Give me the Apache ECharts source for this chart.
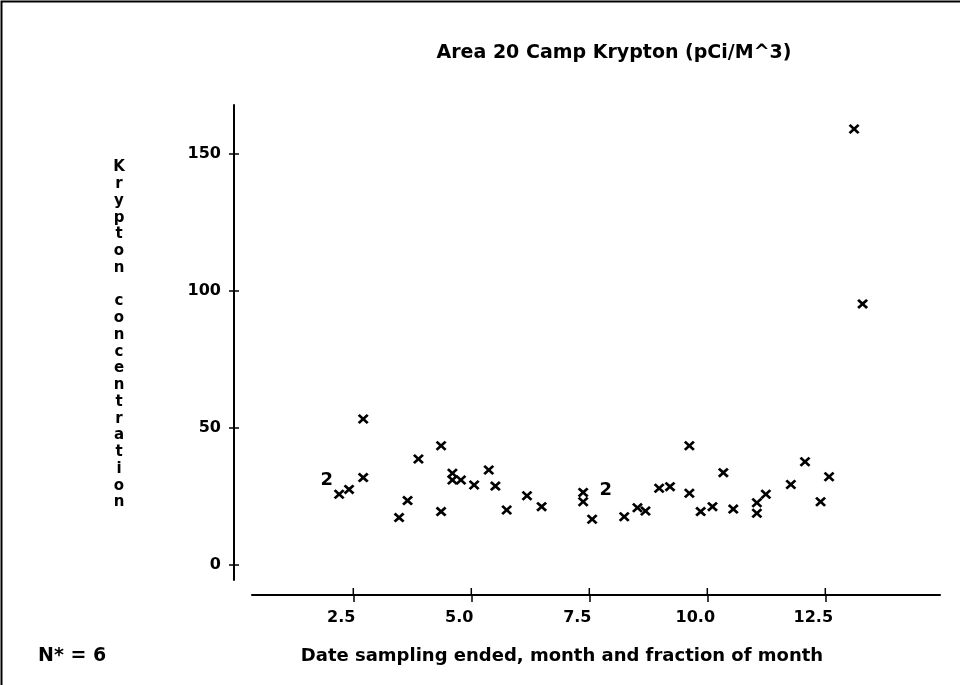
<!DOCTYPE html>
<html>
<head>
<meta charset="utf-8">
<script src="https://cdn.jsdelivr.net/npm/echarts@6/dist/echarts.min.js"></script>
<style>
  html, body { margin: 0; padding: 0; background: #fff; }
  #chart { width: 960px; height: 685px; }
</style>
</head>
<body>
<div id="chart"></div>
<script>
// Sampling end date (month + fraction) and krypton concentration, pCi/M^3
const sampleMonth = [2.20, 2.41, 2.71, 2.71, 3.47, 3.65, 3.88, 4.36, 4.36, 4.60,
                     4.60, 4.78, 5.06, 5.37, 5.51, 5.75, 6.18, 6.49, 7.37, 7.37,
                     7.56, 8.24, 8.52, 8.69, 8.98, 9.21, 9.62, 9.62, 9.86, 10.11,
                     10.34, 10.55, 11.05, 11.05, 11.24, 11.77, 12.07, 12.40, 12.58, 13.11,
                     13.29];
const kryptonConc = [25.8, 27.6, 53.3, 31.9, 17.3, 23.5, 38.7, 43.5, 19.5, 33.5,
                     31.0, 31.0, 29.2, 34.7, 28.8, 20.1, 25.3, 21.3, 26.5, 23.1,
                     16.7, 17.6, 20.9, 19.7, 28.0, 28.6, 43.5, 26.2, 19.5, 21.3,
                     33.7, 20.4, 22.7, 18.9, 25.8, 29.4, 37.7, 23.1, 32.2, 159.1,
                     95.3];
// Coincident observations, drawn as their count
const pairMonth = [1.94, 7.85];
const pairConc = [31.0, 27.4];
const pairCount = [2, 2];

const xTicks = [2.5, 5.0, 7.5, 10.0, 12.5];
const yTicks = [0, 50, 100, 150];

const FONT = '"DejaVu Sans", "Liberation Sans", sans-serif';
const INK = '#000';

const X_MIN = 0.354, X_MAX = 14.93;
const Y_MIN = -5.47, Y_MAX = 167.88;
const X_OFFSET = 15;   // x axis line sits below the plot area
const Y_OFFSET = 18;   // y axis line sits left of the plot area
const TICK_X = 7, TICK_Y = 5;

const singles = sampleMonth.map((m, i) => [m, kryptonConc[i]]);
const pairs = pairMonth.map((m, i) => [m, pairConc[i], pairCount[i]]);
// tick positions for the half of each tick that lies on the plot side of the line
const tickRows = xTicks.map(v => [v, Y_MIN, 0]).concat(yTicks.map(v => [X_MIN, v, 1]));

// plotter-style "x" marker
const crossPath = 'path://M0,1.8L1.8,0L5,3.2L8.2,0L10,1.8L6.8,5L10,8.2L8.2,10L5,6.8L1.8,10L0,8.2L3.2,5Z';

const chart = echarts.init(document.getElementById('chart'), null, { renderer: 'canvas' });
const tickStyle = { color: INK, width: 1.5 };

chart.setOption({
  animation: false,
  backgroundColor: '#fff',
  grid: { left: 252, right: 20, top: 105, bottom: 105, containLabel: false },
  xAxis: {
    type: 'value', min: X_MIN, max: X_MAX, offset: X_OFFSET, position: 'bottom',
    splitLine: { show: false },
    axisLine: { show: true, onZero: false, lineStyle: { color: INK, width: 2 } },
    axisTick: { show: true, customValues: xTicks, length: TICK_X, lineStyle: tickStyle },
    axisLabel: {
      show: true, customValues: xTicks, formatter: v => v.toFixed(1),
      color: INK, fontFamily: FONT, fontSize: 16, fontWeight: 'bold',
      margin: 15, padding: [0, 24, 0, 0]
    }
  },
  yAxis: {
    type: 'value', min: Y_MIN, max: Y_MAX, offset: Y_OFFSET, position: 'left',
    splitLine: { show: false },
    axisLine: { show: true, onZero: false, lineStyle: { color: INK, width: 2 } },
    axisTick: { show: true, customValues: yTicks, length: TICK_Y, lineStyle: tickStyle },
    axisLabel: {
      show: true, customValues: yTicks, formatter: v => String(v),
      color: INK, fontFamily: FONT, fontSize: 16, fontWeight: 'bold', margin: 13
    }
  },
  series: [
    {
      name: 'Krypton',
      type: 'scatter',
      data: singles,
      symbol: crossPath,
      symbolSize: [11, 10],
      itemStyle: { color: INK, opacity: 1 },
      emphasis: { disabled: true }
    },
    {
      name: 'Coincident',
      type: 'scatter',
      data: pairs,
      symbol: 'circle',
      symbolSize: 0.1,
      itemStyle: { color: 'rgba(0,0,0,0)', opacity: 1 },
      label: {
        show: true, position: 'inside', opacity: 1,
        formatter: p => String(p.value[2]),
        color: INK, fontFamily: FONT, fontSize: 18, fontWeight: 'bold'
      },
      emphasis: { disabled: true }
    },
    {
      // inner halves of the tick marks, so each tick crosses its axis line
      name: 'tickHalves',
      type: 'custom',
      clip: false,
      silent: true,
      z: 10,
      data: tickRows,
      renderItem: function (params, api) {
        const p = api.coord([api.value(0), api.value(1)]);
        if (api.value(2) === 0) {
          const y = p[1] + X_OFFSET;
          return { type: 'line', shape: { x1: p[0], y1: y, x2: p[0], y2: y - TICK_X },
                   style: { stroke: INK, lineWidth: 1.5 } };
        }
        const x = p[0] - Y_OFFSET;
        return { type: 'line', shape: { x1: x, y1: p[1], x2: x + TICK_Y, y2: p[1] },
                 style: { stroke: INK, lineWidth: 1.5 } };
      }
    }
  ],
  graphic: [
    {
      type: 'polyline', silent: true,
      shape: { points: [[1.5, 685], [1.5, 1.5], [960, 1.5]] },
      style: { stroke: INK, lineWidth: 2, fill: null }
    },
    {
      type: 'text', x: 614, y: 53, silent: true,
      style: {
        text: 'Area 20 Camp Krypton (pCi/M^3)', fill: INK,
        font: 'bold 19px ' + FONT, align: 'center', verticalAlign: 'middle'
      }
    },
    {
      type: 'text', x: 119, y: 335, silent: true,
      style: {
        text: 'Krypton concentration'.split('').join('\n'), fill: INK,
        font: 'bold 15px ' + FONT, lineHeight: 16.75, align: 'center', verticalAlign: 'middle'
      }
    },
    {
      type: 'text', x: 562, y: 656, silent: true,
      style: {
        text: 'Date sampling ended, month and fraction of month', fill: INK,
        font: 'bold 18px ' + FONT, align: 'center', verticalAlign: 'middle'
      }
    },
    {
      type: 'text', x: 38, y: 656, silent: true,
      style: {
        text: 'N* = 6', fill: INK,
        font: 'bold 19px ' + FONT, align: 'left', verticalAlign: 'middle'
      }
    }
  ]
});
</script>
</body>
</html>
